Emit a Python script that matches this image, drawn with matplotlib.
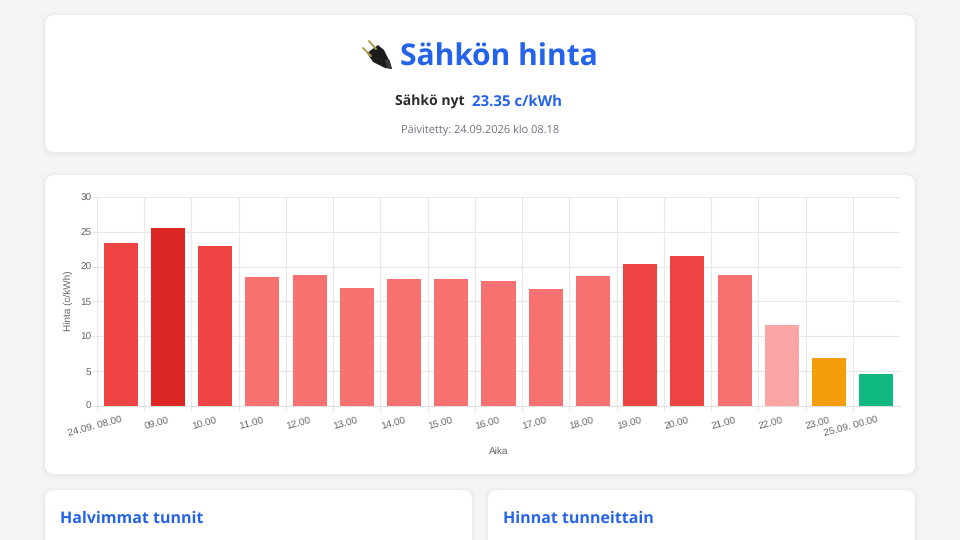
import matplotlib
matplotlib.use('Agg')
import matplotlib.pyplot as plt
from matplotlib.patches import FancyBboxPatch, Polygon

plt.rcParams['text.hinting'] = 'no_hinting'
plt.rcParams['text.hinting_factor'] = 1

# chart data
hours = ['24.09. 08.00', '09.00', '10.00', '11.00', '12.00', '13.00', '14.00', '15.00', '16.00',
         '17.00', '18.00', '19.00', '20.00', '21.00', '22.00', '23.00', '25.09. 00.00']
prices = [23.35, 25.65, 23.05, 18.55, 18.85, 16.9, 18.3, 18.2, 17.9, 16.75, 18.7, 20.4, 21.6, 18.8, 11.65, 6.9, 4.55]
bar_colors = ['#ef4444', '#dc2626', '#ef4444', '#f87171', '#f87171', '#f87171', '#f87171', '#f87171', '#f87171',
              '#f87171', '#f87171', '#ef4444', '#ef4444', '#f87171', '#fca5a5', '#f59e0b', '#10b981']
y_ticks = [0, 5, 10, 15, 20, 25, 30]

W, H = 960, 540
fig = plt.figure(figsize=(W / 100, H / 100), dpi=100, facecolor='#f5f5f5')

# background layer in pixel coordinates
bg = fig.add_axes([0, 0, 1, 1])
bg.set_xlim(0, W)
bg.set_ylim(H, 0)
bg.axis('off')


def card(x0, y0, x1, y1):
    # soft shadow first, then white card
    for grow, alpha in [(5, 0.004), (4, 0.006), (3, 0.008), (2, 0.01), (1, 0.012)]:
        bg.add_patch(FancyBboxPatch((x0 - grow, y0 - grow + 1), x1 - x0 + 2 * grow, y1 - y0 + 2 * grow,
                                    boxstyle='round,pad=0,rounding_size=12', fc='black', ec='none', alpha=alpha))
    bg.add_patch(FancyBboxPatch((x0, y0), x1 - x0, y1 - y0, boxstyle='round,pad=0,rounding_size=10',
                                fc='white', ec='none'))


card(45, 15, 915, 152)
card(45, 175, 915, 474)
card(45, 490, 472, 560)
card(488, 490, 915, 560)

# plug icon
bg.plot([369, 376], [41, 49], color='#b59a45', lw=1.4, solid_capstyle='round')
bg.plot([363, 371], [48, 56], color='#b59a45', lw=1.4, solid_capstyle='round')
bg.add_patch(Polygon([(367, 53), (378, 45), (384, 50), (390, 62), (392, 69), (385, 68), (373, 62)],
                     fc='#1c1c1c', ec='none'))
bg.add_patch(Polygon([(385, 60), (389, 59), (392, 69), (387, 68)], fc='#3a3a3a', ec='none'))

# header texts
font = 'Open Sans'
bg.text(400, 58, 'Sähkön hinta', color='#2563eb', fontsize=21.8, fontweight='bold', family=font,
        ha='left', va='center')
bg.text(395, 102, 'Sähkö nyt', color='#2b2b2b', fontsize=10.4, fontweight='bold', family=font,
        ha='left', va='center')
bg.text(472, 102, '23.35 c/kWh', color='#2563eb', fontsize=10.8, fontweight='bold', family=font,
        ha='left', va='center')
bg.text(480, 130, 'Päivitetty: 24.09.2026 klo 08.18', color='#6b7280', fontsize=7.6, family=font,
        ha='center', va='center')
bg.text(60, 519, 'Halvimmat tunnit', color='#2563eb', fontsize=11.3, fontweight='bold', family=font,
        ha='left', va='center')
bg.text(503, 519, 'Hinnat tunneittain', color='#2563eb', fontsize=11.3, fontweight='bold', family=font,
        ha='left', va='center')

# bar chart
ax = fig.add_axes([97 / W, 1 - 405.7 / H, (900 - 97) / W, (405.7 - 197.3) / H])
ax.set_facecolor('none')
x = list(range(len(hours)))
ax.bar(x, prices, width=0.72, color=bar_colors, linewidth=0, zorder=3)
ax.set_xlim(-0.5, len(hours) - 0.5)
ax.set_ylim(0, 30)
ax.set_yticks(y_ticks)
ax.set_xticks(x)
ax.set_xticklabels([])

grid_color = '#e8e8ea'
ax.grid(axis='y', color=grid_color, lw=0.8, zorder=0)
for i in range(len(hours)):
    ax.axvline(i - 0.5, color=grid_color, lw=0.8, ymin=0, ymax=1, zorder=0)
for s in ['top', 'right', 'left']:
    ax.spines[s].set_visible(False)
ax.spines['bottom'].set_color('#dfdfe1')
ax.spines['bottom'].set_linewidth(0.8)
ax.tick_params(axis='x', length=0)
ax.tick_params(axis='y', length=3.6, color=grid_color, width=0.8, pad=0.5, labelsize=7.2, labelcolor='#666666')
for lab in ax.get_yticklabels():
    lab.set_family('Liberation Sans')

# chart.js style tick marks under the axis and rotated labels
for i in range(len(hours)):
    bg.plot([97 + i * 803 / 17] * 2, [406, 411], color=grid_color, lw=0.8)
    bx = 97 + (i + 0.5) * 803 / 17
    bg.text(bx, 416, hours[i], rotation=15, rotation_mode='anchor', ha='right', va='top',
            fontsize=7.0, color='#666666', family='Liberation Sans')

bg.text(498.5, 451, 'Aika', fontsize=7.2, color='#666666', family='Liberation Sans', ha='center', va='center')
bg.text(68.5, 301, 'Hinta (c/kWh)', fontsize=7.0, color='#666666', family='Liberation Sans', rotation=90,
        ha='center', va='center')

fig.savefig('out.png', dpi=100, facecolor=fig.get_facecolor())
